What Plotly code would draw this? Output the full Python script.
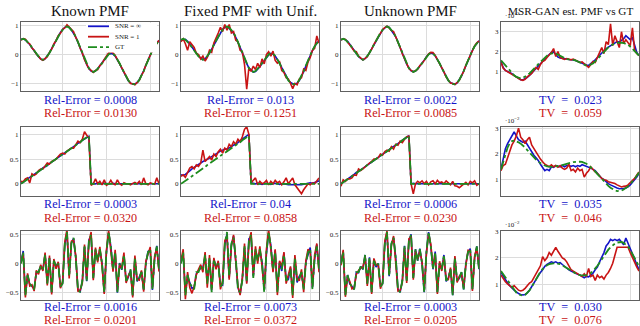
import plotly.graph_objects as go

x = list(range(1, 65))

col_titles = ["Known PMF", "Fixed PMF with Unif.", "Unknown PMF", "MSR-GAN est. PMF vs GT"]
legend_names = ["SNR = ∞", "SNR = 1", "GT"]

# ---------------- row 1 : smooth signal ----------------
gt1 = [0.52, 0.55, 0.52, 0.45, 0.36, 0.25, 0.14, 0.04, -0.06, -0.14,
       -0.18, -0.15, -0.06, 0.06, 0.20, 0.35, 0.50, 0.64, 0.76, 0.86,
       0.94, 0.98, 0.94, 0.85, 0.76, 0.62, 0.44, 0.24, 0.04, -0.16,
       -0.33, -0.47, -0.56, -0.60, -0.57, -0.50, -0.40, -0.30, -0.19, -0.08,
       0.01, 0.05, 0.03, -0.04, -0.16, -0.30, -0.46, -0.62, -0.77, -0.90,
       -0.98, -1.02, -1.03, -0.98, -0.88, -0.74, -0.57, -0.38, -0.19, -0.01,
       0.15, 0.29, 0.40, 0.48]
blue11 = [0.53, 0.55, 0.51, 0.44, 0.35, 0.24, 0.13, 0.03, -0.07, -0.15,
          -0.19, -0.15, -0.05, 0.07, 0.21, 0.36, 0.51, 0.65, 0.77, 0.87,
          0.95, 0.99, 0.95, 0.86, 0.75, 0.61, 0.43, 0.23, 0.03, -0.17,
          -0.34, -0.48, -0.57, -0.60, -0.56, -0.49, -0.39, -0.29, -0.18, -0.07,
          0.02, 0.04, 0.02, -0.05, -0.17, -0.31, -0.47, -0.63, -0.78, -0.91,
          -0.99, -1.02, -1.02, -0.97, -0.87, -0.73, -0.56, -0.37, -0.18, 0.00,
          0.16, 0.30, 0.41, 0.49]
red11 = [0.50, 0.56, 0.54, 0.43, 0.37, 0.23, 0.15, 0.02, -0.05, -0.16,
         -0.20, -0.13, -0.07, 0.08, 0.19, 0.37, 0.49, 0.66, 0.74, 0.88,
         0.93, 1.04, 0.96, 0.88, 0.80, 0.60, 0.45, 0.22, 0.06, -0.18,
         -0.32, -0.49, -0.55, -0.62, -0.55, -0.52, -0.38, -0.31, -0.17, -0.06,
         0.06, 0.10, 0.06, -0.03, -0.18, -0.29, -0.48, -0.61, -0.79, -0.89,
         -1.00, -1.01, -1.05, -0.96, -0.89, -0.72, -0.58, -0.36, -0.20, 0.01,
         0.14, 0.31, 0.39, 0.50]
blue12 = [0.50, 0.52, 0.53, 0.46, 0.35, 0.26, 0.13, 0.05, -0.05, -0.12,
          -0.17, -0.14, -0.07, 0.05, 0.19, 0.34, 0.51, 0.65, 0.78, 0.88,
          0.95, 0.97, 0.91, 0.84, 0.74, 0.60, 0.45, 0.25, 0.06, -0.14,
          -0.31, -0.46, -0.55, -0.61, -0.59, -0.52, -0.42, -0.31, -0.20, -0.10,
          -0.01, 0.04, 0.02, -0.05, -0.15, -0.29, -0.45, -0.60, -0.75, -0.88,
          -0.97, -1.01, -1.02, -0.99, -0.90, -0.76, -0.59, -0.40, -0.21, -0.03,
          0.14, 0.28, 0.41, 0.47]
red12 = [0.45, 0.55, 0.38, 0.15, 0.45, 0.33, 0.25, 0.05, 0.00, -0.15,
         -0.05, -0.22, -0.10, 0.15, 0.08, 0.40, 0.55, 0.75, 0.95, 0.80,
         1.05, 0.85, 1.05, 0.75, 0.80, 0.50, 0.45, 0.15, 0.10, -0.35,
         -1.20, -0.45, -0.58, -0.40, -0.52, -0.30, -0.45, -0.15, -0.32, 0.00,
         0.10, -0.05, 0.12, -0.20, -0.30, -0.25, -0.55, -0.62, -0.80, -0.85,
         -1.00, -1.18, -1.00, -1.05, -0.85, -0.80, -0.50, -0.55, -0.25, -0.10,
         0.15, 0.22, 0.65, 0.40]
blue13 = [0.52, 0.54, 0.52, 0.46, 0.36, 0.25, 0.14, 0.05, -0.06, -0.13,
          -0.18, -0.14, -0.06, 0.07, 0.20, 0.35, 0.50, 0.63, 0.76, 0.86,
          0.93, 0.98, 0.95, 0.85, 0.75, 0.62, 0.44, 0.25, 0.04, -0.15,
          -0.33, -0.46, -0.56, -0.59, -0.57, -0.50, -0.41, -0.30, -0.19, -0.07,
          0.02, 0.06, 0.03, -0.04, -0.15, -0.30, -0.46, -0.61, -0.76, -0.90,
          -0.98, -1.01, -1.03, -0.98, -0.88, -0.75, -0.57, -0.38, -0.18, -0.01,
          0.15, 0.29, 0.40, 0.48]
red13 = [0.51, 0.55, 0.53, 0.44, 0.37, 0.24, 0.12, 0.10, -0.05, -0.12,
         -0.18, -0.13, -0.07, 0.07, 0.19, 0.36, 0.50, 0.64, 0.75, 0.87,
         0.94, 0.99, 0.93, 0.84, 0.80, 0.63, 0.42, 0.25, 0.03, -0.16,
         -0.32, -0.48, -0.55, -0.60, -0.56, -0.51, -0.38, -0.31, -0.20, -0.06,
         0.03, 0.08, 0.07, -0.03, -0.17, -0.29, -0.47, -0.60, -0.78, -0.89,
         -0.99, -1.00, -1.04, -0.97, -0.89, -0.73, -0.58, -0.37, -0.20, 0.00,
         0.14, 0.30, 0.41, 0.47]

# ---------------- row 2 : sawtooth ----------------
gt2 = [0.00, 0.03, 0.06, 0.10, 0.13, 0.16, 0.19, 0.22, 0.25, 0.28,
       0.31, 0.34, 0.38, 0.41, 0.44, 0.47, 0.50, 0.53, 0.56, 0.59,
       0.63, 0.66, 0.69, 0.72, 0.75, 0.78, 0.81, 0.84, 0.88, 0.91,
       0.94, 0.97, 0.00, 0.00, 0.00, 0.00, 0.00, 0.00, 0.00, 0.00,
       0.00, 0.00, 0.00, 0.00, 0.00, 0.00, 0.00, 0.00, 0.00, 0.00,
       0.00, 0.00, 0.00, 0.00, 0.00, 0.00, 0.00, 0.00, 0.00, 0.00,
       0.00, 0.00, 0.00, 0.00]
blue21 = [0.01, 0.03, 0.07, 0.10, 0.12, 0.16, 0.19, 0.22, 0.25, 0.28,
          0.32, 0.34, 0.37, 0.41, 0.44, 0.47, 0.50, 0.54, 0.56, 0.59,
          0.63, 0.66, 0.69, 0.72, 0.75, 0.78, 0.82, 0.84, 0.88, 0.91,
          0.94, 0.96, 0.01, 0.00, 0.00, 0.01, 0.00, 0.00, 0.01, 0.00,
          0.00, 0.00, 0.01, 0.00, 0.00, 0.00, 0.01, 0.00, 0.00, 0.00,
          0.00, 0.01, 0.00, 0.00, 0.00, 0.00, 0.01, 0.00, 0.00, 0.00,
          0.01, 0.00, 0.00, 0.00]
red21 = [0.05, 0.04, 0.10, 0.12, 0.02, 0.20, 0.17, 0.20, 0.27, 0.30,
         0.30, 0.36, 0.42, 0.40, 0.45, 0.47, 0.50, 0.55, 0.60, 0.62,
         0.60, 0.66, 0.69, 0.72, 0.72, 0.80, 0.86, 0.83, 0.90, 1.05,
         0.98, 0.94, -0.03, 0.00, 0.10, 0.00, 0.05, -0.02, 0.08, -0.03,
         0.00, 0.07, 0.00, -0.02, 0.08, 0.00, -0.03, 0.02, 0.00, 0.00,
         -0.02, 0.01, 0.03, 0.00, 0.05, -0.02, 0.12, 0.00, -0.02, 0.02,
         0.00, -0.01, 0.12, 0.00]
blue22 = [0.18, 0.17, 0.19, 0.22, 0.26, 0.30, 0.33, 0.36, 0.40, 0.43,
          0.45, 0.47, 0.49, 0.52, 0.55, 0.58, 0.60, 0.63, 0.66, 0.68,
          0.70, 0.70, 0.72, 0.75, 0.78, 0.80, 0.83, 0.87, 0.90, 0.93,
          0.96, 1.00, 0.02, 0.01, 0.00, 0.01, 0.00, -0.01, 0.00, 0.01,
          0.00, -0.01, 0.00, 0.01, 0.00, -0.01, 0.00, 0.00, -0.01, -0.02,
          -0.02, -0.03, -0.03, -0.02, -0.03, -0.02, -0.01, 0.00, 0.01, 0.02,
          0.01, 0.02, 0.04, 0.06]
red22 = [0.15, 0.18, 0.13, 0.22, 0.32, 0.35, 0.30, 0.38, 0.35, 0.42,
         0.68, 0.45, 0.50, 0.55, 0.48, 0.60, 0.55, 0.65, 0.70, 0.62,
         0.72, 0.68, 0.80, 0.75, 0.85, 0.80, 0.90, 0.85, 0.95, 1.10,
         1.15, 1.00, 0.02, 0.08, 0.12, -0.02, 0.05, 0.00, 0.02, 0.07,
         -0.02, 0.05, 0.00, 0.07, 0.02, 0.05, -0.02, 0.04, 0.12, 0.00,
         0.05, 0.12, -0.02, -0.08, -0.15, -0.20, -0.12, -0.05, 0.00, -0.02,
         0.02, 0.00, 0.05, 0.12]
blue23 = [0.00, 0.03, 0.07, 0.09, 0.13, 0.16, 0.19, 0.23, 0.25, 0.28,
          0.31, 0.35, 0.38, 0.41, 0.44, 0.47, 0.51, 0.53, 0.56, 0.60,
          0.63, 0.66, 0.69, 0.73, 0.75, 0.78, 0.81, 0.85, 0.88, 0.91,
          0.94, 0.97, 0.00, 0.01, 0.00, 0.00, 0.01, 0.00, 0.00, 0.00,
          0.01, 0.00, 0.00, 0.00, 0.01, 0.00, 0.00, 0.00, 0.00, 0.01,
          0.00, 0.00, 0.00, 0.01, 0.00, 0.00, 0.00, 0.00, 0.01, 0.00,
          0.00, 0.00, 0.01, 0.00]
red23 = [-0.05, 0.08, 0.05, 0.10, 0.10, 0.12, 0.18, 0.17, 0.30, 0.27,
         0.30, 0.35, 0.38, 0.42, 0.45, 0.50, 0.50, 0.53, 0.60, 0.58,
         0.65, 0.68, 0.66, 0.75, 0.70, 0.80, 0.78, 0.86, 0.83, 0.90,
         0.95, 0.96, 0.00, -0.20, 0.00, 0.05, 0.02, 0.06, 0.00, 0.05,
         -0.02, 0.04, 0.06, 0.00, 0.07, 0.02, 0.04, 0.00, 0.06, 0.02,
         -0.02, 0.05, -0.04, -0.05, -0.08, -0.04, 0.00, 0.03, -0.02, 0.05,
         0.02, 0.06, -0.03, 0.00]

# ---------------- row 3 : random signal ----------------
gt3 = [0.00, 0.20, -0.55, -0.20, -0.35, -0.40, -0.45, -0.15, -0.15, -0.05,
       -0.10, 0.15, -0.35, 0.10, -0.50, 0.05, -0.05, 0.00, -0.40, -0.35,
       0.35, 0.55, -0.22, 0.35, 0.45, 0.10, -0.45, -0.50, -0.30, 0.30,
       -0.30, 0.40, 0.50, -0.25, 0.25, 0.05, 0.25, 0.00, -0.50, 0.20,
       0.55, 0.30, -0.10, 0.20, -0.50, 0.00, -0.10, 0.15, -0.30, -0.25,
       -0.10, -0.55, 0.10, -0.30, -0.25, -0.15, -0.45, 0.00, 0.20, 0.25,
       -0.45, 0.10, 0.30, -0.10]
blue31 = [0.01, 0.22, -0.53, -0.21, -0.36, -0.41, -0.44, -0.16, -0.14, -0.05,
          -0.11, 0.16, -0.34, 0.10, -0.51, 0.04, -0.05, 0.01, -0.41, -0.34,
          0.33, 0.54, -0.21, 0.36, 0.44, 0.11, -0.46, -0.49, -0.31, 0.29,
          -0.31, 0.41, 0.49, -0.26, 0.24, 0.06, 0.24, 0.01, -0.51, 0.19,
          0.54, 0.31, -0.11, 0.19, -0.51, 0.01, -0.11, 0.14, -0.31, -0.24,
          -0.11, -0.56, 0.09, -0.31, -0.24, -0.14, -0.46, 0.01, 0.21, 0.24,
          -0.46, 0.09, 0.31, -0.11]
red31 = [0.03, 0.17, -0.59, -0.17, -0.39, -0.37, -0.48, -0.12, -0.19, -0.02,
         -0.13, 0.19, -0.38, 0.14, -0.54, 0.08, -0.09, 0.03, -0.43, -0.31,
         0.38, 0.60, -0.26, 0.39, 0.41, 0.14, -0.49, -0.46, -0.34, 0.33,
         -0.27, 0.37, 0.55, -0.29, 0.28, 0.02, 0.29, -0.04, -0.53, 0.23,
         0.58, 0.27, -0.14, 0.24, -0.47, -0.03, -0.07, 0.19, -0.34, -0.21,
         -0.14, -0.59, 0.14, -0.27, -0.29, -0.12, -0.49, 0.04, 0.17, 0.29,
         -0.42, 0.13, 0.27, -0.14]
blue32 = [0.03, 0.18, -0.51, -0.23, -0.33, -0.43, -0.42, -0.18, -0.12, -0.08,
          -0.07, 0.12, -0.32, 0.07, -0.47, 0.08, -0.08, 0.03, -0.37, -0.38,
          0.32, 0.52, -0.25, 0.32, 0.48, 0.07, -0.42, -0.53, -0.27, 0.27,
          -0.33, 0.43, 0.47, -0.22, 0.22, 0.08, 0.22, 0.03, -0.47, 0.17,
          0.52, 0.33, -0.13, 0.23, -0.47, 0.03, -0.13, 0.18, -0.27, -0.28,
          -0.07, -0.52, 0.07, -0.33, -0.22, -0.18, -0.42, 0.03, 0.17, 0.28,
          -0.42, 0.07, 0.33, -0.07]
red32 = [0.05, 0.25, -0.62, -0.15, -0.42, -0.52, -0.40, -0.20, -0.10, -0.02,
         -0.15, 0.20, -0.42, 0.15, -0.45, 0.10, -0.10, 0.05, -0.45, -0.30,
         0.40, 0.48, -0.28, 0.30, 0.50, 0.05, -0.40, -0.55, -0.25, 0.35,
         -0.35, 0.35, 0.55, -0.20, 0.30, 0.00, 0.30, -0.05, -0.45, 0.25,
         0.60, 0.25, -0.15, 0.25, -0.55, 0.05, -0.05, 0.20, -0.35, -0.20,
         -0.05, -0.60, 0.15, -0.25, -0.30, -0.10, -0.50, 0.05, 0.25, 0.20,
         -0.40, 0.15, 0.35, -0.15]
blue33 = [0.00, 0.21, -0.54, -0.20, -0.35, -0.41, -0.45, -0.15, -0.16, -0.05,
          -0.10, 0.15, -0.35, 0.11, -0.50, 0.05, -0.06, 0.00, -0.40, -0.35,
          0.35, 0.55, -0.22, 0.34, 0.45, 0.10, -0.45, -0.50, -0.30, 0.31,
          -0.30, 0.40, 0.51, -0.25, 0.25, 0.05, 0.26, 0.00, -0.50, 0.20,
          0.55, 0.30, -0.10, 0.21, -0.50, 0.00, -0.10, 0.15, -0.31, -0.25,
          -0.10, -0.55, 0.10, -0.30, -0.26, -0.15, -0.45, 0.00, 0.20, 0.26,
          -0.45, 0.10, 0.30, -0.10]
red33 = [-0.03, 0.24, -0.58, -0.23, -0.31, -0.44, -0.42, -0.19, -0.12, -0.08,
         -0.06, 0.12, -0.39, 0.07, -0.53, 0.09, -0.02, -0.03, -0.44, -0.32,
         0.39, 0.57, -0.19, 0.31, 0.48, 0.06, -0.48, -0.47, -0.33, 0.27,
         -0.34, 0.43, 0.47, -0.28, 0.22, 0.08, 0.22, 0.03, -0.47, 0.17,
         0.52, 0.34, -0.07, 0.17, -0.53, 0.04, -0.13, 0.12, -0.27, -0.28,
         -0.07, -0.52, 0.13, -0.33, -0.22, -0.18, -0.42, -0.03, 0.23, 0.22,
         -0.48, 0.13, 0.27, -0.07]

# ---------------- column 4 : PMFs (x 1e-2) ----------------
pmf_gt1 = [1.55, 1.42, 1.28, 1.15, 1.02, 0.90, 0.80, 0.72, 0.67, 0.65,
           0.67, 0.72, 0.80, 0.90, 1.00, 1.12, 1.24, 1.36, 1.48, 1.60,
           1.70, 1.79, 1.86, 1.91, 1.93, 1.90, 1.84, 1.77, 1.70, 1.65,
           1.62, 1.60, 1.60, 1.58, 1.55, 1.50, 1.44, 1.37, 1.32, 1.29,
           1.29, 1.33, 1.40, 1.50, 1.62, 1.75, 1.88, 2.00, 2.11, 2.21,
           2.29, 2.36, 2.41, 2.44, 2.45, 2.45, 2.43, 2.40, 2.34, 2.25,
           2.14, 2.01, 1.90, 1.80]
pmf_blue1 = [1.50, 1.20, 1.05, 1.00, 0.95, 0.88, 0.80, 0.72, 0.62, 0.58,
             0.57, 0.62, 0.70, 0.80, 0.92, 1.05, 1.15, 1.25, 1.38, 1.50,
             1.62, 1.75, 1.85, 1.95, 2.00, 1.85, 1.72, 1.68, 1.65, 1.65,
             1.62, 1.60, 1.60, 1.58, 1.55, 1.50, 1.45, 1.42, 1.38, 1.32,
             1.30, 1.38, 1.50, 1.58, 1.70, 1.82, 1.95, 2.05, 2.15, 2.22,
             2.30, 2.38, 2.45, 2.50, 2.48, 2.55, 2.65, 2.80, 2.72, 2.60,
             2.70, 2.25, 1.95, 1.80]
pmf_red1 = [1.45, 1.15, 1.05, 1.00, 0.92, 0.85, 0.78, 0.70, 0.62, 0.58,
            0.55, 0.60, 0.72, 0.80, 0.90, 1.05, 1.20, 1.10, 1.35, 1.50,
            1.55, 1.70, 1.80, 1.95, 2.15, 1.75, 2.00, 1.70, 1.65, 1.60,
            1.65, 1.60, 1.58, 1.62, 1.55, 1.50, 1.45, 1.48, 1.38, 1.30,
            1.20, 1.35, 1.50, 1.45, 1.70, 2.00, 2.20, 1.90, 2.50, 2.35,
            3.40, 2.30, 2.80, 2.50, 2.20, 3.00, 2.40, 2.60, 2.45, 2.30,
            3.20, 2.05, 1.90, 1.80]
pmf_gt2 = [1.40, 1.70, 2.00, 2.25, 2.42, 2.50, 2.52, 2.50, 2.45, 2.40,
           2.33, 2.25, 2.15, 2.05, 1.95, 1.86, 1.78, 1.70, 1.64, 1.59,
           1.55, 1.52, 1.50, 1.50, 1.50, 1.51, 1.53, 1.55, 1.57, 1.60,
           1.62, 1.64, 1.66, 1.68, 1.69, 1.70, 1.70, 1.69, 1.66, 1.62,
           1.56, 1.49, 1.41, 1.32, 1.22, 1.12, 1.02, 0.93, 0.84, 0.76,
           0.69, 0.63, 0.58, 0.56, 0.56, 0.58, 0.62, 0.67, 0.74, 0.83,
           0.93, 1.04, 1.15, 1.28]
pmf_blue2 = [1.40, 1.85, 2.20, 2.40, 2.55, 2.70, 2.85, 2.70, 2.55, 2.50,
             2.45, 2.50, 2.35, 2.25, 2.10, 1.95, 1.85, 1.75, 1.60, 1.45,
             1.35, 1.40, 1.35, 1.50, 1.48, 1.55, 1.52, 1.50, 1.55, 1.50,
             1.55, 1.55, 1.52, 1.55, 1.50, 1.55, 1.52, 1.58, 1.55, 1.52,
             1.50, 1.45, 1.40, 1.35, 1.25, 1.15, 1.05, 1.00, 0.92, 0.85,
             0.80, 0.75, 0.70, 0.68, 0.65, 0.65, 0.66, 0.68, 0.72, 0.80,
             0.90, 1.00, 1.10, 1.25]
pmf_red2 = [1.35, 1.55, 1.60, 1.85, 2.05, 2.35, 2.50, 2.70, 3.00, 2.65,
            2.55, 2.40, 2.55, 2.65, 2.35, 2.20, 2.05, 1.95, 1.80, 1.70,
            1.60, 1.55, 1.50, 1.58, 1.50, 1.55, 1.48, 1.55, 1.45, 1.40,
            1.45, 1.60, 1.35, 1.40, 1.30, 1.45, 1.35, 1.40, 1.10, 1.25,
            1.35, 1.50, 1.40, 1.30, 1.25, 1.15, 1.05, 1.00, 0.98, 0.92,
            0.90, 0.88, 0.85, 0.80, 0.75, 0.72, 0.74, 0.75, 0.80, 0.88,
            0.95, 1.05, 1.18, 1.30]
pmf_gt3 = [1.50, 1.38, 1.25, 1.12, 1.00, 0.88, 0.78, 0.69, 0.62, 0.58,
           0.57, 0.60, 0.67, 0.77, 0.90, 1.05, 1.20, 1.35, 1.48, 1.58,
           1.66, 1.72, 1.76, 1.78, 1.79, 1.79, 1.78, 1.76, 1.72, 1.67,
           1.61, 1.55, 1.49, 1.44, 1.40, 1.37, 1.35, 1.34, 1.34, 1.35,
           1.38, 1.43, 1.50, 1.59, 1.70, 1.82, 1.95, 2.08, 2.20, 2.31,
           2.40, 2.48, 2.54, 2.58, 2.60, 2.60, 2.57, 2.51, 2.42, 2.30,
           2.16, 2.00, 1.84, 1.68]
pmf_blue3 = [1.45, 1.30, 1.18, 1.05, 0.95, 0.85, 0.78, 0.72, 0.65, 0.62,
             0.60, 0.62, 0.68, 0.78, 0.92, 1.05, 1.18, 1.30, 1.45, 1.55,
             1.68, 1.75, 1.80, 1.85, 1.82, 1.85, 1.80, 1.82, 1.75, 1.68,
             1.60, 1.55, 1.50, 1.45, 1.42, 1.38, 1.35, 1.30, 1.25, 1.30,
             1.28, 1.35, 1.42, 1.55, 1.65, 1.85, 2.00, 2.20, 2.45, 2.55,
             2.70, 2.65, 2.70, 2.65, 2.70, 2.60, 2.50, 2.75, 2.55, 2.35,
             2.10, 1.90, 1.70, 1.55]
pmf_red3 = [1.35, 1.20, 1.10, 1.02, 0.95, 0.88, 0.95, 0.85, 0.78, 0.75,
            0.78, 0.85, 0.95, 1.05, 1.10, 1.25, 1.40, 1.50, 1.70, 2.05,
            1.90, 2.00, 2.20, 2.10, 2.25, 2.40, 2.25, 2.10, 2.00, 1.95,
            1.85, 1.70, 1.55, 1.50, 1.45, 1.40, 1.35, 1.30, 1.40, 1.30,
            1.60, 1.30, 1.35, 1.15, 1.35, 1.25, 1.30, 1.20, 1.35, 1.45,
            1.60, 1.80, 2.10, 2.40, 2.40, 2.40, 2.40, 2.40, 2.40, 2.20,
            2.00, 1.80, 1.65, 1.50]

# metric labels (blue = SNR inf, red = SNR 1)
blue_labels = [["Rel-Error = 0.0008", "Rel-Error = 0.013", "Rel-Error = 0.0022", "TV  =  0.023"],
               ["Rel-Error = 0.0003", "Rel-Error = 0.04", "Rel-Error = 0.0006", "TV  =  0.035"],
               ["Rel-Error = 0.0016", "Rel-Error = 0.0073", "Rel-Error = 0.0003", "TV  =  0.030"]]
red_labels = [["Rel-Error = 0.0130", "Rel-Error = 0.1251", "Rel-Error = 0.0085", "TV  =  0.059"],
              ["Rel-Error = 0.0320", "Rel-Error = 0.0858", "Rel-Error = 0.0230", "TV  =  0.046"],
              ["Rel-Error = 0.0201", "Rel-Error = 0.0372", "Rel-Error = 0.0205", "TV  =  0.076"]]

series = [
    [(gt1, blue11, red11), (gt1, blue12, red12), (gt1, blue13, red13), (pmf_gt1, pmf_blue1, pmf_red1)],
    [(gt2, blue21, red21), (gt2, blue22, red22), (gt2, blue23, red23), (pmf_gt2, pmf_blue2, pmf_red2)],
    [(gt3, blue31, red31), (gt3, blue32, red32), (gt3, blue33, red33), (pmf_gt3, pmf_blue3, pmf_red3)],
]

BLUE = "#1414c8"
RED = "#c81414"
GREEN = "#1e8c1e"
GRID = "#dcdcdc"
FRAME = "#606060"
FONT = "Liberation Serif"

W, H = 640, 326


def px(v):
    return v / W


def py(v):
    return 1 - v / H


col_px = [(21, 159), (181, 319), (341, 479), (501, 639)]
row_px = [(19, 89), (125, 195), (230, 300)]
text_px = [(98, 111), (203, 216.5), (307, 320)]
title_size = [15, 15, 15, 11.2]

y_ranges = [[-1.27, 1.14], [-0.25, 1.15], [-0.64, 0.57]]
y_ticks = [[-1, 0, 1], [0, 0.5, 1], [-0.5, 0, 0.5]]
pmf_ranges = [[0.0, 3.5], [0.36, 3.05], [0.4, 3.02]]

fig = go.Figure()
annotations = []
k = 0
for r in range(3):
    for c in range(4):
        k += 1
        sx = "" if k == 1 else str(k)
        gt, blue, red = series[r][c]
        for ys, col, dash, w in [(blue, BLUE, "solid", 1.6), (red, RED, "solid", 1.6), (gt, GREEN, "dashdot", 1.8)]:
            fig.add_trace(go.Scatter(x=x, y=ys, mode="lines", xaxis="x" + sx, yaxis="y" + sx,
                                     line=dict(color=col, width=w, dash=dash), showlegend=False,
                                     hoverinfo="skip"))
        x0, x1 = col_px[c]
        y0, y1 = row_px[r]
        fig.layout["xaxis" + sx] = dict(domain=[px(x0), px(x1)], range=[1, 64], tickvals=[20, 40, 60],
                                        showticklabels=False, showgrid=True, gridcolor=GRID, gridwidth=1,
                                        showline=True, mirror=True, linecolor=FRAME, linewidth=1,
                                        zeroline=False, anchor="y" + sx, ticks="", fixedrange=True)
        if c < 3:
            yr, yt = y_ranges[r], y_ticks[r]
        else:
            yr, yt = pmf_ranges[r], [1, 2, 3]
        fig.layout["yaxis" + sx] = dict(domain=[py(y1), py(y0)], range=yr, tickvals=yt,
                                        showgrid=True, gridcolor=GRID, gridwidth=1, showline=True,
                                        mirror=True, linecolor=FRAME, linewidth=1, zeroline=False,
                                        anchor="x" + sx, ticks="", fixedrange=True,
                                        tickfont=dict(size=7, color="#222", family=FONT))
        xc = px((x0 + x1) / 2)
        tb, tr = text_px[r]
        annotations.append(dict(x=xc, y=py(tb), xref="paper", yref="paper", text=blue_labels[r][c].replace("  ", "\u00a0 "),
                                showarrow=False, xanchor="center", yanchor="middle",
                                font=dict(size=12.2, color=BLUE, family=FONT)))
        annotations.append(dict(x=xc, y=py(tr), xref="paper", yref="paper", text=red_labels[r][c].replace("  ", "\u00a0 "),
                                showarrow=False, xanchor="center", yanchor="middle",
                                font=dict(size=12.2, color=RED, family=FONT)))
        if c == 3:
            annotations.append(dict(x=px(503), y=py(y0 - 6), xref="paper", yref="paper",
                                    text="·10<sup>−2</sup>", showarrow=False, xanchor="left",
                                    yanchor="middle", font=dict(size=7, color="#222", family=FONT)))

for c in range(4):
    x0, x1 = col_px[c]
    annotations.append(dict(x=px((x0 + x1) / 2), y=py(8), xref="paper", yref="paper",
                            text=col_titles[c], showarrow=False, xanchor="center", yanchor="middle",
                            font=dict(size=title_size[c], color="#111", family=FONT)))

# legend inside the first panel
shapes = [dict(type="rect", xref="paper", yref="paper", x0=px(86), x1=px(157),
               y0=py(50), y1=py(20), fillcolor="white", line=dict(width=0), layer="above")]
for name, col, dash, ly in zip(legend_names, [BLUE, RED, GREEN], ["solid", "solid", "dashdot"], [23.5, 34, 44.5]):
    shapes.append(dict(type="line", xref="paper", yref="paper", x0=px(88), x1=px(109),
                       y0=py(ly), y1=py(ly), line=dict(color=col, width=1.8, dash=dash),
                       layer="above"))
    annotations.append(dict(x=px(113), y=py(ly), xref="paper", yref="paper", text=name,
                            showarrow=False, xanchor="left", yanchor="middle",
                            font=dict(size=7, color="#222", family=FONT)))

fig.update_layout(width=W, height=H, margin=dict(l=0, r=0, t=0, b=0),
                  plot_bgcolor="white", paper_bgcolor="white", hovermode=False,
                  annotations=annotations, shapes=shapes, font=dict(family=FONT))

# drop the default 8px page margin so the figure fills the window exactly
fig.write_html("out.html", config={"displayModeBar": False},
               post_script="document.body.style.margin='0px';")
